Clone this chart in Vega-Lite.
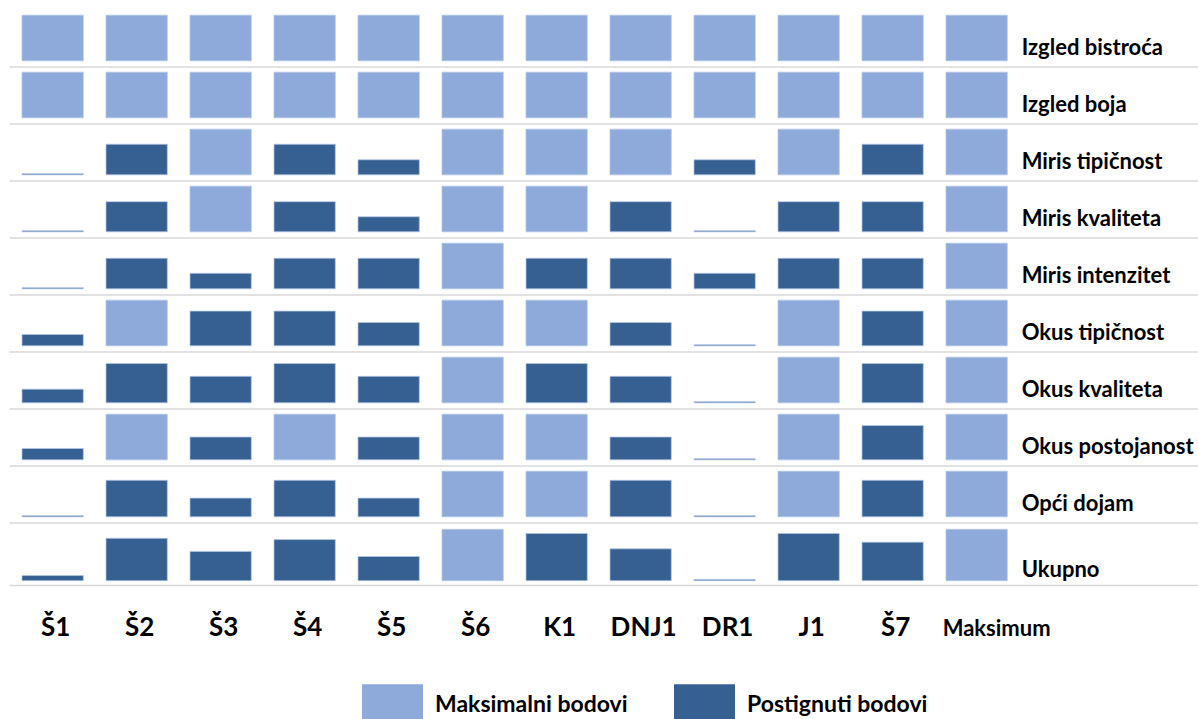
{
  "$schema": "https://vega.github.io/schema/vega-lite/v6.json",
  "padding": {"left": 9, "top": 9.5, "right": 0, "bottom": 0},
  "background": "#ffffff",
  "config": {"view": {"stroke": null}, "font": "Lato", "concat": {"spacing": 0}},
  "spacing": 0,
  "resolve": {"scale": {"y": "independent"}},
  "data": {"values": [
    {"s":"Š1","a":"Izgled bistroća","v":100,"t":"Maksimalni bodovi"},
    {"s":"Š2","a":"Izgled bistroća","v":100,"t":"Maksimalni bodovi"},
    {"s":"Š3","a":"Izgled bistroća","v":100,"t":"Maksimalni bodovi"},
    {"s":"Š4","a":"Izgled bistroća","v":100,"t":"Maksimalni bodovi"},
    {"s":"Š5","a":"Izgled bistroća","v":100,"t":"Maksimalni bodovi"},
    {"s":"Š6","a":"Izgled bistroća","v":100,"t":"Maksimalni bodovi"},
    {"s":"K1","a":"Izgled bistroća","v":100,"t":"Maksimalni bodovi"},
    {"s":"DNJ1","a":"Izgled bistroća","v":100,"t":"Maksimalni bodovi"},
    {"s":"DR1","a":"Izgled bistroća","v":100,"t":"Maksimalni bodovi"},
    {"s":"J1","a":"Izgled bistroća","v":100,"t":"Maksimalni bodovi"},
    {"s":"Š7","a":"Izgled bistroća","v":100,"t":"Maksimalni bodovi"},
    {"s":"Maksimum","a":"Izgled bistroća","v":100,"t":"Maksimalni bodovi"},
    {"s":"Š1","a":"Izgled boja","v":100,"t":"Maksimalni bodovi"},
    {"s":"Š2","a":"Izgled boja","v":100,"t":"Maksimalni bodovi"},
    {"s":"Š3","a":"Izgled boja","v":100,"t":"Maksimalni bodovi"},
    {"s":"Š4","a":"Izgled boja","v":100,"t":"Maksimalni bodovi"},
    {"s":"Š5","a":"Izgled boja","v":100,"t":"Maksimalni bodovi"},
    {"s":"Š6","a":"Izgled boja","v":100,"t":"Maksimalni bodovi"},
    {"s":"K1","a":"Izgled boja","v":100,"t":"Maksimalni bodovi"},
    {"s":"DNJ1","a":"Izgled boja","v":100,"t":"Maksimalni bodovi"},
    {"s":"DR1","a":"Izgled boja","v":100,"t":"Maksimalni bodovi"},
    {"s":"J1","a":"Izgled boja","v":100,"t":"Maksimalni bodovi"},
    {"s":"Š7","a":"Izgled boja","v":100,"t":"Maksimalni bodovi"},
    {"s":"Maksimum","a":"Izgled boja","v":100,"t":"Maksimalni bodovi"},
    {"s":"Š1","a":"Miris tipičnost","v":2.5,"t":"Postignuti bodovi"},
    {"s":"Š2","a":"Miris tipičnost","v":67,"t":"Postignuti bodovi"},
    {"s":"Š3","a":"Miris tipičnost","v":100,"t":"Maksimalni bodovi"},
    {"s":"Š4","a":"Miris tipičnost","v":67,"t":"Postignuti bodovi"},
    {"s":"Š5","a":"Miris tipičnost","v":33,"t":"Postignuti bodovi"},
    {"s":"Š6","a":"Miris tipičnost","v":100,"t":"Maksimalni bodovi"},
    {"s":"K1","a":"Miris tipičnost","v":100,"t":"Maksimalni bodovi"},
    {"s":"DNJ1","a":"Miris tipičnost","v":100,"t":"Maksimalni bodovi"},
    {"s":"DR1","a":"Miris tipičnost","v":33,"t":"Postignuti bodovi"},
    {"s":"J1","a":"Miris tipičnost","v":100,"t":"Maksimalni bodovi"},
    {"s":"Š7","a":"Miris tipičnost","v":67,"t":"Postignuti bodovi"},
    {"s":"Maksimum","a":"Miris tipičnost","v":100,"t":"Maksimalni bodovi"},
    {"s":"Š1","a":"Miris kvaliteta","v":2.5,"t":"Postignuti bodovi"},
    {"s":"Š2","a":"Miris kvaliteta","v":66,"t":"Postignuti bodovi"},
    {"s":"Š3","a":"Miris kvaliteta","v":100,"t":"Maksimalni bodovi"},
    {"s":"Š4","a":"Miris kvaliteta","v":66,"t":"Postignuti bodovi"},
    {"s":"Š5","a":"Miris kvaliteta","v":33,"t":"Postignuti bodovi"},
    {"s":"Š6","a":"Miris kvaliteta","v":100,"t":"Maksimalni bodovi"},
    {"s":"K1","a":"Miris kvaliteta","v":100,"t":"Maksimalni bodovi"},
    {"s":"DNJ1","a":"Miris kvaliteta","v":66,"t":"Postignuti bodovi"},
    {"s":"DR1","a":"Miris kvaliteta","v":2.5,"t":"Postignuti bodovi"},
    {"s":"J1","a":"Miris kvaliteta","v":66,"t":"Postignuti bodovi"},
    {"s":"Š7","a":"Miris kvaliteta","v":66,"t":"Postignuti bodovi"},
    {"s":"Maksimum","a":"Miris kvaliteta","v":100,"t":"Maksimalni bodovi"},
    {"s":"Š1","a":"Miris intenzitet","v":2.5,"t":"Postignuti bodovi"},
    {"s":"Š2","a":"Miris intenzitet","v":67,"t":"Postignuti bodovi"},
    {"s":"Š3","a":"Miris intenzitet","v":34,"t":"Postignuti bodovi"},
    {"s":"Š4","a":"Miris intenzitet","v":67,"t":"Postignuti bodovi"},
    {"s":"Š5","a":"Miris intenzitet","v":67,"t":"Postignuti bodovi"},
    {"s":"Š6","a":"Miris intenzitet","v":100,"t":"Maksimalni bodovi"},
    {"s":"K1","a":"Miris intenzitet","v":67,"t":"Postignuti bodovi"},
    {"s":"DNJ1","a":"Miris intenzitet","v":67,"t":"Postignuti bodovi"},
    {"s":"DR1","a":"Miris intenzitet","v":34,"t":"Postignuti bodovi"},
    {"s":"J1","a":"Miris intenzitet","v":67,"t":"Postignuti bodovi"},
    {"s":"Š7","a":"Miris intenzitet","v":67,"t":"Postignuti bodovi"},
    {"s":"Maksimum","a":"Miris intenzitet","v":100,"t":"Maksimalni bodovi"},
    {"s":"Š1","a":"Okus tipičnost","v":25,"t":"Postignuti bodovi"},
    {"s":"Š2","a":"Okus tipičnost","v":100,"t":"Maksimalni bodovi"},
    {"s":"Š3","a":"Okus tipičnost","v":76,"t":"Postignuti bodovi"},
    {"s":"Š4","a":"Okus tipičnost","v":76,"t":"Postignuti bodovi"},
    {"s":"Š5","a":"Okus tipičnost","v":51,"t":"Postignuti bodovi"},
    {"s":"Š6","a":"Okus tipičnost","v":100,"t":"Maksimalni bodovi"},
    {"s":"K1","a":"Okus tipičnost","v":100,"t":"Maksimalni bodovi"},
    {"s":"DNJ1","a":"Okus tipičnost","v":51,"t":"Postignuti bodovi"},
    {"s":"DR1","a":"Okus tipičnost","v":2.5,"t":"Postignuti bodovi"},
    {"s":"J1","a":"Okus tipičnost","v":100,"t":"Maksimalni bodovi"},
    {"s":"Š7","a":"Okus tipičnost","v":76,"t":"Postignuti bodovi"},
    {"s":"Maksimum","a":"Okus tipičnost","v":100,"t":"Maksimalni bodovi"},
    {"s":"Š1","a":"Okus kvaliteta","v":30,"t":"Postignuti bodovi"},
    {"s":"Š2","a":"Okus kvaliteta","v":86,"t":"Postignuti bodovi"},
    {"s":"Š3","a":"Okus kvaliteta","v":58,"t":"Postignuti bodovi"},
    {"s":"Š4","a":"Okus kvaliteta","v":86,"t":"Postignuti bodovi"},
    {"s":"Š5","a":"Okus kvaliteta","v":58,"t":"Postignuti bodovi"},
    {"s":"Š6","a":"Okus kvaliteta","v":100,"t":"Maksimalni bodovi"},
    {"s":"K1","a":"Okus kvaliteta","v":86,"t":"Postignuti bodovi"},
    {"s":"DNJ1","a":"Okus kvaliteta","v":58,"t":"Postignuti bodovi"},
    {"s":"DR1","a":"Okus kvaliteta","v":2.5,"t":"Postignuti bodovi"},
    {"s":"J1","a":"Okus kvaliteta","v":100,"t":"Maksimalni bodovi"},
    {"s":"Š7","a":"Okus kvaliteta","v":86,"t":"Postignuti bodovi"},
    {"s":"Maksimum","a":"Okus kvaliteta","v":100,"t":"Maksimalni bodovi"},
    {"s":"Š1","a":"Okus postojanost","v":25,"t":"Postignuti bodovi"},
    {"s":"Š2","a":"Okus postojanost","v":100,"t":"Maksimalni bodovi"},
    {"s":"Š3","a":"Okus postojanost","v":50,"t":"Postignuti bodovi"},
    {"s":"Š4","a":"Okus postojanost","v":100,"t":"Maksimalni bodovi"},
    {"s":"Š5","a":"Okus postojanost","v":50,"t":"Postignuti bodovi"},
    {"s":"Š6","a":"Okus postojanost","v":100,"t":"Maksimalni bodovi"},
    {"s":"K1","a":"Okus postojanost","v":100,"t":"Maksimalni bodovi"},
    {"s":"DNJ1","a":"Okus postojanost","v":50,"t":"Postignuti bodovi"},
    {"s":"DR1","a":"Okus postojanost","v":2.5,"t":"Postignuti bodovi"},
    {"s":"J1","a":"Okus postojanost","v":100,"t":"Maksimalni bodovi"},
    {"s":"Š7","a":"Okus postojanost","v":75,"t":"Postignuti bodovi"},
    {"s":"Maksimum","a":"Okus postojanost","v":100,"t":"Maksimalni bodovi"},
    {"s":"Š1","a":"Opći dojam","v":2.5,"t":"Postignuti bodovi"},
    {"s":"Š2","a":"Opći dojam","v":80,"t":"Postignuti bodovi"},
    {"s":"Š3","a":"Opći dojam","v":41,"t":"Postignuti bodovi"},
    {"s":"Š4","a":"Opći dojam","v":80,"t":"Postignuti bodovi"},
    {"s":"Š5","a":"Opći dojam","v":41,"t":"Postignuti bodovi"},
    {"s":"Š6","a":"Opći dojam","v":100,"t":"Maksimalni bodovi"},
    {"s":"K1","a":"Opći dojam","v":100,"t":"Maksimalni bodovi"},
    {"s":"DNJ1","a":"Opći dojam","v":80,"t":"Postignuti bodovi"},
    {"s":"DR1","a":"Opći dojam","v":2.5,"t":"Postignuti bodovi"},
    {"s":"J1","a":"Opći dojam","v":100,"t":"Maksimalni bodovi"},
    {"s":"Š7","a":"Opći dojam","v":80,"t":"Postignuti bodovi"},
    {"s":"Maksimum","a":"Opći dojam","v":100,"t":"Maksimalni bodovi"},
    {"s":"Š1","a":"Ukupno","v":10,"t":"Postignuti bodovi"},
    {"s":"Š2","a":"Ukupno","v":82.5,"t":"Postignuti bodovi"},
    {"s":"Š3","a":"Ukupno","v":57,"t":"Postignuti bodovi"},
    {"s":"Š4","a":"Ukupno","v":80,"t":"Postignuti bodovi"},
    {"s":"Š5","a":"Ukupno","v":47,"t":"Postignuti bodovi"},
    {"s":"Š6","a":"Ukupno","v":100,"t":"Maksimalni bodovi"},
    {"s":"K1","a":"Ukupno","v":92,"t":"Postignuti bodovi"},
    {"s":"DNJ1","a":"Ukupno","v":62,"t":"Postignuti bodovi"},
    {"s":"DR1","a":"Ukupno","v":2.5,"t":"Postignuti bodovi"},
    {"s":"J1","a":"Ukupno","v":92,"t":"Postignuti bodovi"},
    {"s":"Š7","a":"Ukupno","v":75,"t":"Postignuti bodovi"},
    {"s":"Maksimum","a":"Ukupno","v":100,"t":"Maksimalni bodovi"}
  ]},
  "vconcat": [
    {
      "transform": [{"filter": "datum.a != 'Ukupno'"}],
      "facet": {"row": {"field": "a", "type": "nominal", "header": null,
        "sort": ["Izgled bistroća","Izgled boja","Miris tipičnost","Miris kvaliteta","Miris intenzitet","Okus tipičnost","Okus kvaliteta","Okus postojanost","Opći dojam"]}},
      "spacing": {"row": 0},
      "bounds": "flush",
      "resolve": {"axis": {"x": "independent"}},
      "spec": {
        "width": 1189,
        "height": 57,
        "layer": [
          {
            "mark": {"type": "bar", "stroke": "#b4c7e7", "strokeWidth": 0.75},
            "encoding": {
              "x": {"field": "s", "type": "nominal",
                "scale": {"domain": ["Š1","Š2","Š3","Š4","Š5","Š6","K1","DNJ1","DR1","J1","Š7","Maksimum"," "], "paddingInner": 0.27, "paddingOuter": 0.7125, "align": 0.1086, "round": false},
                "axis": {"title": null, "labels": false, "ticks": false, "tickSize": 0, "labelPadding": 0, "minExtent": 0, "maxExtent": 0, "grid": false, "domain": true, "domainColor": "#d9d9d9", "domainWidth": 1.5}},
              "y": {"field": "v", "type": "quantitative", "scale": {"domain": [-12.35, 112.35], "nice": false, "zero": false}, "axis": null},
              "color": {"field": "t", "type": "nominal",
                "scale": {"domain": ["Maksimalni bodovi","Postignuti bodovi"], "range": ["#8EAADB","#376092"]},
                "legend": {"orient": "none", "legendX": 353, "legendY": 664.5, "direction": "horizontal", "title": null,
                  "symbolType": "M-1,-0.66H1V1H-1Z", "symbolSize": 3721, "symbolStrokeWidth": 0, "symbolOpacity": 1,
                  "labelFont": "Lato", "labelFontWeight": "bold", "labelFontSize": 23, "labelColor": "#000000",
                  "labelOffset": 12, "columnPadding": 46, "labelLimit": 400}}
            }
          },
          {
            "transform": [{"filter": "datum.s == 'Maksimum'"}],
            "mark": {"type": "text", "align": "left", "baseline": "alphabetic", "dx": 45, "dy": -6, "font": "Lato", "fontWeight": "bold", "fontSize": 22, "color": "#000000"},
            "encoding": {
              "x": {"field": "s", "type": "nominal"},
              "y": {"datum": 0, "type": "quantitative"},
              "text": {"field": "a"}
            }
          }
        ]
      }
    },
    {
      "transform": [{"filter": "datum.a == 'Ukupno'"}],
      "width": 1189,
      "height": 62.5,
      "layer": [
        {
          "mark": {"type": "bar", "stroke": "#b4c7e7", "strokeWidth": 0.75},
          "encoding": {
            "x": {"field": "s", "type": "nominal",
              "scale": {"domain": ["Š1","Š2","Š3","Š4","Š5","Š6","K1","DNJ1","DR1","J1","Š7","Maksimum"," "], "paddingInner": 0.27, "paddingOuter": 0.7125, "align": 0.1086, "round": false},
              "axis": {"title": null, "ticks": false, "tickSize": 0, "grid": false, "domain": true, "domainColor": "#d9d9d9", "domainWidth": 1.5,
                "labelAngle": 0, "labelFont": "Lato", "labelFontWeight": "bold", "labelColor": "#000000",
                "labelFontSize": {"condition": {"test": "datum.value == 'Maksimum'", "value": 22}, "value": 26},
                "labelOffset": {"condition": {"test": "datum.value == 'Maksimum'", "value": 20}, "value": 3},
                "labelBaseline": "alphabetic", "labelPadding": 50}},
            "y": {"field": "v", "type": "quantitative", "scale": {"domain": [-8.4, 113.2], "nice": false, "zero": false}, "axis": null},
            "color": {"field": "t", "type": "nominal",
              "scale": {"domain": ["Maksimalni bodovi","Postignuti bodovi"], "range": ["#8EAADB","#376092"]},
              "legend": {"orient": "none", "legendX": 353, "legendY": 664.5, "direction": "horizontal", "title": null,
                "symbolType": "M-1,-0.66H1V1H-1Z", "symbolSize": 3721, "symbolStrokeWidth": 0, "symbolOpacity": 1,
                "labelFont": "Lato", "labelFontWeight": "bold", "labelFontSize": 23, "labelColor": "#000000",
                "labelOffset": 12, "columnPadding": 46, "labelLimit": 400}}
          }
        },
        {
          "transform": [{"filter": "datum.s == 'Maksimum'"}],
          "mark": {"type": "text", "align": "left", "baseline": "alphabetic", "dx": 45, "dy": -3.4, "font": "Lato", "fontWeight": "bold", "fontSize": 22, "color": "#000000"},
          "encoding": {
            "x": {"field": "s", "type": "nominal"},
            "y": {"datum": 0, "type": "quantitative"},
            "text": {"field": "a"}
          }
        }
      ]
    }
  ]
}
